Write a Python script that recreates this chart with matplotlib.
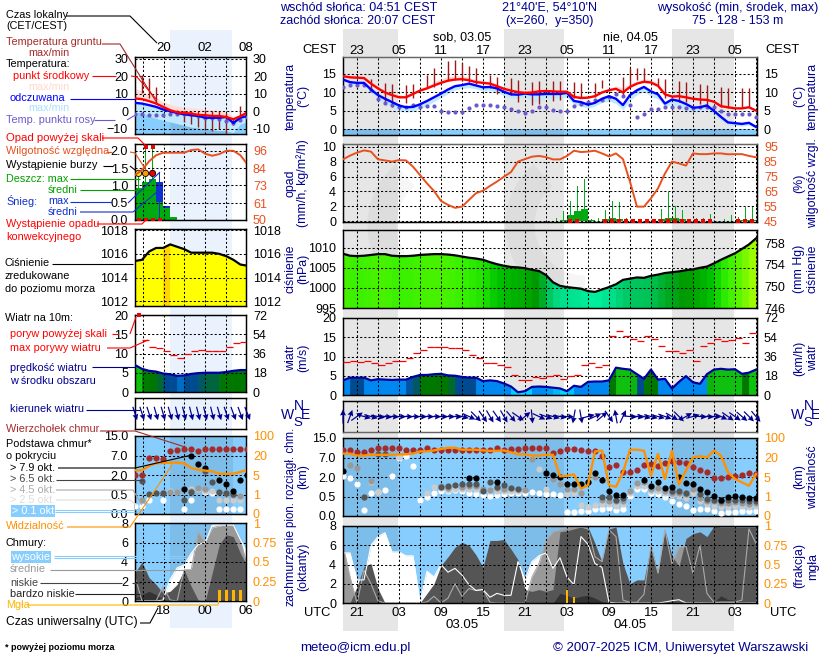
import numpy as np
import matplotlib
matplotlib.use("Agg")
import matplotlib.pyplot as plt
from matplotlib.colors import LinearSegmentedColormap
from matplotlib.patches import Arc

plt.rcParams['font.family'] = ['Liberation Sans', 'DejaVu Sans']
plt.rcParams['font.size'] = 9

n = np.nan
W, H = 820, 660

# ---- duzy meteogram, co godzine od 19 UTC
temp_mid = [14.3,14,13.9,13.8,12.3,11,9.9,9.2,8.6,8.6,9.5,10.4,11,11.8,12.5,13.1,13.4,13.5,13.2,12.7,12.5,12.3,11.6,10.9,10.4,10,9.8,9.9,10.2,10.3,
            10.2,10.1,10.1,8.7,8.4,8.5,8.9,9.9,10.5,10.9,9.9,11.4,12.3,12.8,12.6,11.7,9.4,8.8,8.9,8.6,8.2,8,7.9,7.4,6.2,5.9,5.6,5.6,5.9,5]
temp_hi = [14.6,14.4,14.3,14.2,12.9,11.5,10.4,9.8,9.2,9.2,10,11,11.8,12.8,13.6,14.2,14.4,14.4,14,13.4,13.1,12.9,12.2,11.4,10.9,10.6,10.7,11,11.2,11,
           11,10.8,10.6,9.3,9,9,9.3,10.3,11,11.7,11.2,12.3,13,13.6,13.4,12.4,9.8,9.2,9.3,9,8.6,8.4,8.2,7.7,6.5,6.1,5.9,5.9,6.2,5.2]
felt = [13.4,12.7,12.5,12.5,10.7,9.2,8.2,7.3,6.4,5.9,6,6.7,7.6,8.6,9.6,10.7,11.6,11.9,12.3,11.8,11.3,11.4,11,10.1,9.4,9.3,9.6,9.4,9.4,9.5,
        9.5,9.5,9.8,7.6,7.3,6.6,7.1,8.2,8.9,8.2,6.5,9.2,10.5,11.4,10.2,9.4,6.9,8,7.6,6.8,5.8,5.9,6.4,4.9,3.3,1.8,1.6,1.4,1.7,0.6]
felt_lo = [12.9,12.2,12,11.8,9.7,8.1,7,5.8,4.9,4.6,4.8,5.5,6.4,7.4,8.5,9.6,10.6,11,11.2,10.9,10.3,10.4,10,9,8.4,8.4,8.7,7.5,7.5,8.3,
           8.3,8.3,8.6,6.6,6.2,5.6,6.2,7.2,7.6,6.9,5.2,7.8,9.3,10.2,8.8,8.2,6,6.8,6,5.2,4.8,5,5.3,3.9,2.4,1,1,.8,1.1,0.2]
dew = [11.4,12,12,12,10.7,8.1,7.1,6.4,6,6,6.4,6.1,6.2,6.2,4.9,4.7,4.5,4.5,5.7,6.4,6.4,6.6,6.2,5.9,5.5,4.9,4.4,4.9,5.9,5.9,
       5.2,5,4.9,6.3,6.7,7.2,8,8,8.8,9.5,8.9,6.6,3.4,4,5.5,5.5,6,6,6,5.6,5.6,6,6,5.9,4.9,4.2,4.2,4.2,4.2,3.4]
ground_top = [n,n,n,n,13.5,n,12.6,12.3,n,12,12.3,n,14.7,16.4,n,18.4,18.6,18,17,16.4,n,14.6,14.1,n,13.7,13.2,n,12.8,13,n,
              13,13,n,12.8,12.6,n,12.6,13.2,n,n,14.1,16.4,16.4,16.4,n,13.9,13.5,n,13,12.8,n,12.3,12,n,11.4,11.2,n,11,11,n]
ground_bot = [n,n,n,n,10.3,n,6.7,6,n,7,8.3,n,11,11.4,n,13,13.2,13,12.8,12.3,n,11,9.6,n,9.2,7.4,n,6.5,6.7,n,
              7.6,7.9,n,8.3,8.3,n,8.7,11,n,n,9.2,11.9,13.2,12.8,n,11.9,8.3,n,7.4,7.4,n,6.9,6.5,n,6,5.8,n,5.6,6,n]

humid = [86.5,89,91,92.5,91.7,86.5,85.8,85,86,85.8,81.6,76,70.4,65.3,58.6,56,54,54.8,59.3,63.8,65.5,68.7,71.6,74.9,78,85,86.7,88.3,88.8,88,
         86.5,86.5,88.8,92.3,91.4,91.7,92.3,90.5,88.5,90.5,86.7,71.6,54.8,54.8,60.4,67,77,85,83.8,82.3,90.5,90,90,90.5,90.5,89.9,90,90,88.8,87.9]
rain_mean = [0,0,0,0,0,0,0,0,0,0,0,0,0,0,0,0,0,0,0,0,0,0,0,0,0,0,0,0,0,0,
             .05,.2,.85,1.4,1.65,.15,.05,.25,.5,.25,.05,0,0,0,0,.25,.5,.5,.35,.1,.05,.05,.1,0,.05,.1,.2,.2,.2,.2]
rain_max = [0,0,0,0,0,0,0,0,0,0,0,0,0,0,0,0,0,0,0,0,0,0,0,0,0,0,0,0,0,0,
            .4,1.4,2.7,4.7,5.7,.3,.4,1.5,2.7,2.6,.4,0,0,0,0,1.7,3.9,2,1.5,0,.5,.5,1,0,.3,.9,.6,1.9,1.9,.3]
conv_hours = [32,33,37,38,39,40,41,42,43,44,45,46,47,48,49,50,51,52,56,57,58]

press = [1008.5,1008,1007.9,1008,1008.2,1008.4,1008.4,1008,1007.9,1007.9,1008,1008.2,1008.3,1008.4,1008.4,1008.3,1008.1,1007.8,1007.5,1007.3,
         1007,1006.4,1005.9,1005.5,1005.2,1005.1,1004.9,1004.5,1004.2,1003.2,1001.4,1000.5,1000.2,1000,999.8,999.2,999,999.6,1000.2,1000.9,
         1002,1002.3,1002.6,1002.5,1003,1003.3,1003.7,1003.9,1004.1,1004.4,1004.6,1005,1005.3,1006.1,1007,1007.8,1008.6,1009.7,1010.8,1012.3]

wind = [3.8,4.5,4.5,4.5,3.8,4.1,4,3.9,4,4,4.7,5.2,5.2,5.4,5.5,5.1,5,4.7,4.5,4.5,3.6,3.8,3.6,3,2.2,.7,1,2.1,2.2,2.1,
        1.9,1.7,1,2.4,2.1,3.4,3.5,3.5,3.8,7.1,6.8,6.6,5.4,4.2,6.6,4,4.2,1.7,3.4,4.9,3.3,2.9,5.4,6.6,6.8,6.6,6.7,5.5,5.8,6.6]
gust = [8.5,8.9,8.5,8.8,8.4,7.9,8.2,8.8,8.8,9.7,10.8,11.6,12.5,12.5,12.5,12.3,12.3,11.6,10.3,9.5,8.3,8.4,7.9,7.2,5.3,3.8,3.8,4.7,4.3,5,
        5.1,4.1,5,5.3,7.9,8.4,7.4,7.7,15.4,16.7,15.2,14.6,14.1,15.4,14.6,12.6,11.5,11.3,11,11.8,8.9,12.8,13.4,14.6,13.9,14.4,14.8,13.5,16]
wind_dir = [90,70,35,-15,-15,-10,-8,-5,-3,-3,-3,-3,-3,-3,-3,-3,-5,-15,-25,-45,-55,-60,-55,-60,-50,-35,40,-85,-25,-20,
            -15,-10,-3,-100,-80,15,25,40,-55,100,65,-5,-8,-15,-15,-15,-20,-30,-45,30,15,-5,-5,-5,-25,-35,-35,-40,-45,-50]

cloud_top = [10.2,10.2,9.4,9.1,10.2,10.7,10.7,10.7,10.9,10.2,10.2,10.2,10.9,10.2,9.9,10.2,10.2,10.2,10.2,10.2,10.2,10.2,11,10.2,10.3,10.3,10.7,10.7,10.7,10.7,
             8.9,9.5,10.3,10.3,10.2,9.8,9.5,7.5,4.5,5.1,3.2,3.4,3.9,5.1,5.4,4.8,5.6,6,5.8,5.6,4.5,3.7,3.3,1.9,1.9,2.1,2.3,2.5,2.9,2.7]
base_79 = [3.5,n,n,n,n,n,n,n,n,n,n,n,n,n,n,n,n,n,1.95,1.95,n,n,1.63,n,n,n,n,n,n,2.9,
           2.5,2,1.45,1.45,1.45,1.63,2.9,1.75,.92,.58,.58,n,n,1.8,1.32,1.63,1.13,1.26,2,1.53,1.45,1.05,.85,.53,.42,.49,.53,.49,.47,.47]
base_65 = [n,n,n,.48,n,8.6,8.5,n,n,n,n,n,n,n,1.2,1.3,1.4,1.5,1.5,1.5,.95,1.63,1.2,1.37,1.18,1.1,n,n,n,n,
           n,n,n,n,n,n,n,.49,.49,.42,.46,n,n,n,n,n,n,.92,.92,.74,n,.66,.44,.42,.38,.42,.42,.41,.38,.38]
base_45 = [n,5,4.3,.5,1.7,n,n,n,n,n,n,n,n,n,1.3,1.15,n,1.25,1.3,1.3,1.1,1,1.18,1.05,n,n,1,6.5,n,n,
           1.85,1.45,1.05,1.1,.74,1.63,2.1,.42,.38,.38,.38,.92,1.53,1.58,1.1,1.18,.92,.79,.79,.66,1.05,.46,.38,.38,.34,.34,.36,.34,.32,.34]
base_25 = [n,n,n,n,1.6,.85,n,n,7.3,n,n,n,.75,1.25,1.15,1,1.1,1.1,1.1,1.1,1,.92,.92,.92,.92,.92,n,6.8,4.1,1.05,
           n,n,.66,.74,.27,.24,.27,.3,.3,.25,.3,.79,1.32,1.32,.92,.92,.74,.58,.53,.46,.79,.38,.3,.25,.24,.24,.25,.25,.24,.25]
base_01 = [2.2,1.9,1.5,.15,.75,.85,1,2.3,7,7.5,4.8,.42,.5,.75,.9,.95,1,.9,.8,.7,.65,.55,.63,.66,.74,.74,.79,.85,.74,.66,
           .66,.58,.1,.1,.13,.13,.17,.19,.21,.15,.19,.53,1.1,1.1,.74,.66,.49,.38,.32,.25,.15,.17,.19,.13,.08,.1,.1,.12,.12,.13]
visib = [36,36,28,28,31,31,31,31,33,33,36,45,45,49,55,60,60,52,52,52,49,47,47,49,41,33,33,28,28,31,
         31,5.5,6,7,2.6,3.3,45,48,3.3,3,8.6,52,52,48,6,35,4.6,48,3.5,10,21,25,20,48,28,8.6,4.6,3.9,3.2,7.3]

cl_high = [5.2,5.2,2.4,2.4,6,6.9,7.3,5.3,5.3,4.9,4.9,.07,3.3,2.7,4,3.2,3.6,2.9,1.9,1.3,1.4,.6,1,.8,.8,4.3,2.4,4.3,4.9,5.2,
           3.6,4.7,2.7,1.9,6.9,6.1,4.1,3.7,.07,0,0,0,0,0,0,0,.1,.24,.34,0,0,0,0,0,0,0,0,0,0,0]
cl_mid = [6,2.7,0,3.4,2,.2,0,0,0,0,0,0,.1,.7,0,.5,2,.7,1.5,1.3,1.4,.07,0,0,0,0,0,2.7,4.1,6.5,
          7.4,7.6,7.8,7.9,7.9,7.7,4.8,4.3,7.6,6.9,.3,.07,.07,.9,6,3.1,7.6,4.1,5.8,5.9,3.1,6,1,.07,.1,.1,.1,.3,7.7,6.2]
cl_low = [0,0,1.7,3.8,4.1,1.5,0,0,0,0,0,0,1,2,3.9,4.8,5.8,6.3,6,5,3.7,6.5,6.5,6.6,5.6,4.5,1.4,1.2,1.4,1.2,
          1.4,7.4,7.5,7.7,7.9,7.9,6.2,4.3,7.7,7.9,4.1,2,2.4,2.4,6,3.1,7.6,4.9,3.8,6.7,7.2,7.4,6.9,8,7.9,7.9,7.9,7.9,7.9,7.9]
cl_vlow = [0,0,0,0,0,0,0,0,0,0,0,0,0,0,0,0,0,0,0,0,0,0,0,0,0,0,0,0,0,0,
           0,1,.8,.5,.7,.8,.5,.15,0,0,0,0,0,0,0,0,0,0,0,0,0,0,.15,.1,.75,.35,.3,.15,.1,0]
fog_hours = [32,33]
fog_frac = [.17,.08]

# ---- maly meteogram, od 14 UTC
s_temp = [7.3,6.9,5.8,4.4,2.5,.6,-.6,-1,-1.3,-2.1,-2.3,-2.7,-2.7,-3.3,-4.6,-2.9,-.6]
s_temp_hi = [13,11.5,9.6,7.7,5.5,4,3,2.3,2,1.5,1,.8,.5,-.5,-3,-1.5,0]
s_felt = [4.8,4.4,3.5,2.5,1,0,-1,-1.7,-2.3,-2.7,-3.7,-3.7,-3.7,-3.3,-6.7,-3.7,-2.7]
s_felt_lo = [-.4,-1,-2.5,-4,-5,-6,-7,-8,-9,-9.5,-10,-10.5,-11,-11,-12,-7,-6]
s_dew = [-1.3,-1.3,-1.9,-2.3,-2.3,-1.7,-1.3,-1.7,-1.7,-2.9,-3.7,-4.1,-4.4,-5.6,-6.7,-5.2,-3.5]
s_ground_top = [n,20.8,19.2,14,n,1,1,0,0,0,1,0,0,-1,-4,3,n]
s_ground_bot = [n,10.2,7.3,4.4,n,-2,-2,-6,-7,-9,-10,-11,-10,-13,-8,-3,n]
s_humid = [79.9,83.2,89,93,94.7,94.7,94.7,94.7,96.5,96.9,94,92.7,93.8,96,96,93,87]
s_rain_mean = [.94,1.1,1.18,.53,.34,.08]
s_snow_mean = [0,0,0,1.09,.41,0]
s_rain_max = [1.35,2.1,2.1,0,0,0]
s_snow_max = [0,0,0,1.35,0,0]
s_storm_hours = [.5,1.5,2.5]
s_storm_colors = ['#ffe000', '#ff9900', '#ee0000']
s_press = [1015.4,1015.5,1016.2,1016.5,1016.5,1016.8,1016.6,1016.4,1016.1,1016.1,1016.1,1016.1,1016,1015.8,1015.5,1015.1,1015]
s_wind = [7,6,5.5,5.3,4.8,4.6,4.2,4.3,4.7,4.9,5,5,5,5.2,5.5,5.7,5.7]
s_gust = [n,13.5,11.7,11.4,10.6,9.6,8.8,9.8,10.7,10.9,10.6,10.6,10.6,11.7,12.7,13]
s_dir = [-72,-72,-72,-74,-74,-74,-76,-76,-76,-76,-76,-76,-74,-72,-70,-70,-68]
s_cloud_top = [2.05,2.05,6.4,6.4,6,8.7,9.4,9.7,9.7,8.7,9.7,9.7,9.7,9.7,9.7,9.7,9.7]
s_base_79 = [n,n,n,n,n,n,n,.95,7,4.9,3.8,n,1.6,1.3,.8,1.6,2]
s_base_65 = [n,1.55,.55,.6,.62,n,n,.35,.7,n,3,1.5,.7,.6,.55,n,n]
s_base_45 = [n,.36,n,n,.65,.7,.7,n,.75,1,.9,n,n,.6,.5,.45,n]
s_base_25 = [n,n,n,n,n,.75,.72,n,.9,.95,.8,.75,.35,.35,.35,.35,n]
s_base_01 = [.2,.2,.35,n,.37,n,n,.12,.35,n,.7,.65,.12,.12,.12,.12,n]
s_visib = [8.6,8.6,12,14,14.3,14.5,14.5,14,10.4,9,8.4,7.8,6,5.8,6,7.3,9.1]
s_high = [0,0,0,0,.1,2.2,3.4,3.7,4.9,5.8,6,7.8,7.8,7.8,7.8,6.3,4.9]
s_mid = [2.5,0,0,0,1.5,.1,0,3.2,3.2,7.1,6,7.5,7.7,7.8,7.8,6.3,3.5]
s_low = [2.9,4,2.4,1.7,.8,1,1.7,3.2,1.5,.1,0,2.9,5.8,6.8,6.6,4.9,3.5]
s_vlow = [.3,.65,1,.65,.15,0,0,0,0,0,0,0,0,0,0,0,0]
s_fog_hours = [12,13,14,15]
s_fog_frac = [.14,.14,.14,.14]

NAVY = '#000090'
SKY = '#87CEFF'
SKY_DARK = '#7dbdea'
NIGHT = '#e6e6e6'
PALE = '#eaf2fe'
RH_COL = '#e8501e'
VIS_COL = '#ff9000'
TOP_COL = '#a52a2a'

wind_cmap = LinearSegmentedColormap.from_list('w', [
    (0, '#00e8ff'), (.2, '#00d0ff'), (.27, '#0088f0'), (.52, '#0088f0'), (.55, '#004a90'),
    (.61, '#004a90'), (.64, '#007800'), (.72, '#007800'), (.76, '#10c010'), (.88, '#10c010'), (1, '#40ff20')])
press_cmap = LinearSegmentedColormap.from_list('p', [
    (0, '#00f0a0'), (.15, '#00d880'), (.3, '#00c050'), (.4, '#009a00'), (.52, '#00c800'),
    (.65, '#33f000'), (1, '#b0ff00')])

main_h = np.arange(60)
small_h = np.arange(17)
main_xlim = (0, 59.15)
small_xlim = (0, 15.8)
main_grid = np.arange(2, 60, 3)
small_grid = [1.1, 4.1, 7, 10, 13]
main_night = [(0, 7.8), (23, 31.6), (47, 55.8)]
small_night = [(5, 13.9)]

fig = plt.figure(figsize=(W / 100, H / 100), dpi=100)

# tlo: pasy nocy i slaby znak wodny
bg = fig.add_axes([0, 0, 1, 1], zorder=-5)
bg.set_xlim(0, W)
bg.set_ylim(H, 0)
bg.axis('off')
for a, b in main_night:
    bg.axvspan(343 + 7 * a, 343 + 7 * b, ymin=1 - 631 / H, ymax=1 - 29 / H, color=NIGHT, lw=0)
bg.axvspan(170, 232, ymin=1 - 628 / H, ymax=1 - 30 / H, color=PALE, lw=0)
for cx in (447, 585):
    bg.add_patch(Arc((cx, 225), 130, 130, theta1=90, theta2=230, color='k', alpha=.035, lw=21))


def panel(box, xlim, ylim, grid_x, yticks=(), ylabels=None):
    l, t, r, b = box
    ax = fig.add_axes([l / W, 1 - b / H, (r - l) / W, (b - t) / H])
    ax.patch.set_alpha(0)
    ax.set_xlim(xlim)
    ax.set_ylim(ylim)
    ax.set_xticks(grid_x)
    ax.set_xticklabels([])
    ax.set_yticks(yticks)
    if ylabels is not None:
        ax.set_yticklabels(ylabels)
    ax.tick_params(length=0, labelsize=9, pad=5)
    ax.grid(True, color='k', ls=(0, (2, 2)), lw=.75)
    ax.set_axisbelow(False)
    for s in ax.spines.values():
        s.set_linewidth(1.05)
    return ax


def right_labels(ax, ticks, labels, color='k', ylim=None):
    tw = ax.twinx()
    tw.set_ylim(ax.get_ylim() if ylim is None else ylim)
    tw.set_yticks(ticks)
    tw.set_yticklabels(labels, color=color)
    tw.tick_params(length=0, labelsize=9, pad=5)
    tw.patch.set_alpha(0)
    for s in tw.spines.values():
        s.set_visible(False)
    return tw


def time_labels(ax, step_labels, top=False, pad=3):
    if top:
        ax.tick_params(axis='x', top=True, bottom=False, labeltop=True, labelbottom=False, pad=pad)
    else:
        ax.tick_params(axis='x', pad=pad)
    ax.set_xticklabels(step_labels)


def draw_temp(ax, h, mid, hi, fl, lo, dw, gtop, gbot):
    ax.fill_between(h, mid, hi, color='#ffdcd8', lw=0, zorder=1)
    ax.fill_between(h, lo, fl, color='#bfe9ff', lw=0, zorder=1)
    ax.vlines(h, gbot, gtop, color='#a01818', lw=1, zorder=3)
    ax.scatter(h, dw, s=9, color='#6a5acd', lw=0, zorder=3)
    ax.plot(h, fl, color='#0000ff', lw=1.7, zorder=4)
    ax.plot(h, mid, color='#ff0000', lw=1.7, zorder=4)


def draw_filled(ax, h, vals, cmap, vmin, vmax, bottom):
    for i in range(len(h) - 1):
        c = cmap((0.5 * (vals[i] + vals[i + 1]) - vmin) / (vmax - vmin))
        ax.fill_between(h[i:i + 2], bottom, vals[i:i + 2], color=c, lw=.6, zorder=1)


def draw_dir(ax, h, angles):
    rad = np.radians(angles)
    ax.quiver(h, np.zeros(len(h)), np.cos(rad), np.sin(rad), color=NAVY, angles='uv', pivot='mid',
              units='inches', scale_units='inches', scale=1 / 0.14, width=0.012,
              headwidth=5, headlength=5, headaxislength=4.5, zorder=3, clip_on=False)


base_pos = [0, .25, .5, .75, 1]
base_km = [0, .5, 2, 7, 15]
vis_km = [0, 1, 5, 20, 100]


def draw_base(ax, h, night, top, layers, vis, size=20):
    ax.set_facecolor(SKY)
    ax.patch.set_alpha(1)
    for a, b in night:
        ax.axvspan(a, b, color=SKY_DARK, lw=0, zorder=0)
    for vals, c in layers:
        ax.scatter(h, np.interp(vals, base_km, base_pos), s=size, color=c, lw=0, zorder=3)
    ax.scatter(h, np.interp(top, base_km, base_pos), s=size, color=TOP_COL, lw=0, zorder=3)
    ax.plot(h, np.interp(vis, vis_km, base_pos), color=VIS_COL, lw=1.7, zorder=4)


def draw_clouds(ax, h, night, high, mid, low, vlow, fog_h, fog_f):
    ax.set_facecolor(SKY)
    ax.patch.set_alpha(1)
    for a, b in night:
        ax.axvspan(a, b, color=SKY_DARK, lw=0, zorder=0)
    ax.fill_between(h, 0, high, color='#ffffff', lw=0, zorder=1)
    ax.fill_between(h, 0, mid, color='#999999', lw=0, zorder=1)
    ax.fill_between(h, 0, low, color='#555555', lw=0, zorder=1)
    ax.fill_between(h, 0, vlow, color='#333333', lw=0, zorder=1)
    ax.plot(h, mid, color='#aaaaaa', lw=.8, zorder=2)
    ax.plot(h, high, color='#ffffff', lw=.8, zorder=2)
    ax.bar(fog_h, np.array(fog_f) * 8, width=.4, color='#ffb400', lw=0, zorder=3)


LAB_M = ['23', '', '05', '', '11', '', '17', '', '23', '', '05', '', '11', '', '17', '', '23', '', '05', '']
UTC_M = ['21', '', '03', '', '09', '', '15', '', '21', '', '03', '', '09', '', '15', '', '21', '', '03', '']

# ---- duze panele
ax = panel((343, 57, 757, 135), main_xlim, (-1.6, 19.5), main_grid, [0, 5, 10, 15])
ax.axhspan(-1.6, 0, color=SKY, lw=0, zorder=0.5)
for a, b in main_night:
    ax.fill_between([a, b], -1.6, 0, color=SKY_DARK, lw=0, zorder=0.6)
draw_temp(ax, main_h, temp_mid, temp_hi, felt, felt_lo, dew, ground_top, ground_bot)
ax.spines['top'].set_color('#666666')
ax.tick_params(axis='x', labelsize=9.5)
time_labels(ax, LAB_M, top=True, pad=0)
right_labels(ax, [0, 5, 10, 15], ['0', '5', '10', '15'])

ax = panel((343, 144, 757, 222), main_xlim, (-.1, 10.36), main_grid, [0, 2, 4, 6, 8, 10])
ax.bar(main_h + .5, rain_max, width=.22, color='#00b020', lw=0, zorder=2)
ax.bar(main_h + .5, rain_mean, width=1, color='#00aa10', lw=0, zorder=2)
ax.scatter(np.array(conv_hours) + .5, np.zeros(len(conv_hours)), s=7, marker='s', color='#ee0000', lw=0, zorder=4)
ax.spines['top'].set_color('#666666')
tw = right_labels(ax, [45, 55, 65, 75, 85, 95], ['45', '55', '65', '75', '85', '95'], RH_COL, (44.5, 96.8))
tw.plot(main_h, humid, color=RH_COL, lw=1.4, zorder=4)

ax = panel((343, 230, 757, 308), main_xlim, (995, 1014.4), main_grid, [995, 1000, 1005, 1010])
draw_filled(ax, main_h, press, press_cmap, 999, 1012.3, 995)
ax.plot(main_h, press, color='k', lw=1.6, zorder=4)
right_labels(ax, [995, 1000.3, 1005.7, 1011], ['746', '750', '754', '758'])

ax = panel((343, 318, 757, 395), main_xlim, (0, 20), main_grid, [0, 5, 10, 15, 20])
draw_filled(ax, main_h, wind, wind_cmap, 0, 8, 0)
ax.plot(main_h, wind, color='#0000a0', lw=1.6, zorder=4)
ax.hlines(gust, main_h[:len(gust)], main_h[:len(gust)] + 1, color='#ff0000', lw=.9, zorder=4)
right_labels(ax, [0, 5, 10, 15, 20], ['0', '18', '36', '54', '72'])

ax = panel((343, 401, 757, 432), main_xlim, (-1, 1), main_grid)
ax.spines['bottom'].set_color('#666666')
draw_dir(ax, main_h, wind_dir)

ax = panel((343, 438, 757, 516), main_xlim, (0, 1), main_grid, base_pos, ['0.0', '0.5', '2.0', '7.0', '15.0'])
draw_base(ax, main_h, main_night, cloud_top,
          [(base_01, '#ffffff'), (base_25, '#cccccc'), (base_45, '#999999'), (base_65, '#555555'), (base_79, '#000000')], visib)
right_labels(ax, base_pos, ['0', '1', '5', '20', '100'], VIS_COL)

ax = panel((343, 526, 757, 603), main_xlim, (0, 8), main_grid, [0, 2, 4, 6, 8])
draw_clouds(ax, main_h, main_night, cl_high, cl_mid, cl_low, cl_vlow, fog_hours, fog_frac)
ax.tick_params(axis='x', labelsize=9.5)
time_labels(ax, UTC_M)
right_labels(ax, [0, 2, 4, 6, 8], ['0', '0.25', '0.5', '0.75', '1'], VIS_COL)

# ---- male panele
ax = panel((135, 57, 246, 134), small_xlim, (-13, 31), small_grid, [-10, 0, 10, 20, 30])
ax.fill_between(small_h, -13, s_felt_lo, color=SKY, lw=0, zorder=0.5)
ax.fill_between(small_h, s_felt_lo, s_felt, color='#c4ecff', lw=0, zorder=0.4)
for a, b in small_night:
    ax.fill_between(small_h, -13, s_felt_lo, where=(small_h >= a) & (small_h <= b), color=SKY_DARK, lw=0, zorder=0.6)
draw_temp(ax, small_h, s_temp, s_temp_hi, s_felt, s_felt_lo, s_dew, s_ground_top, s_ground_bot)
ax.set_xticks([1.1, 4.1, 7, 10, 13, 15.8])
ax.tick_params(axis='x', labelsize=9.5)
time_labels(ax, ['', '20', '', '02', '', '08'], top=True, pad=2)
ax.grid(False, axis='x')
for g in small_grid:
    ax.axvline(g, color='k', ls=(0, (2, 2)), lw=.75, zorder=2.5)
right_labels(ax, [-10, 0, 10, 20, 30], ['-10', '0', '10', '20', '30'])

ax = panel((135, 144, 246, 220), small_xlim, (0, 2.2), small_grid, [0, .5, 1, 1.5, 2], ['0.0', '0.5', '1.0', '1.5', '2.0'])
bars = np.arange(len(s_rain_mean)) + .5
ax.bar(bars, s_snow_mean, width=1, color='#1030d0', lw=0, zorder=2)
ax.bar(bars, s_rain_mean, width=1, color='#00aa10', lw=0, zorder=2)
ax.bar(bars, s_rain_max, width=.2, color='#00aa10', lw=0, zorder=2)
ax.bar(bars, s_snow_max, width=.15, color='#1030d0', lw=0, zorder=2)
ax.scatter(bars[1:3], [2.1, 2.1], s=9, marker='s', color='#ee0000', lw=0, zorder=4)
ax.scatter(bars[:4], [0, 0, 0, 0], s=7, marker='s', color='#ee0000', lw=0, zorder=4)
ax.scatter(s_storm_hours, [1.35, 1.35, 1.35], s=20, c=s_storm_colors, edgecolors='k', lw=.6, zorder=5)
tw = right_labels(ax, [50, 61, 73, 84, 96], ['50', '61', '73', '84', '96'], RH_COL, (50, 96 + 4.5))
tw.plot(small_h, s_humid, color=RH_COL, lw=1.4, zorder=4)

ax = panel((135, 229, 246, 306), small_xlim, (1011.6, 1018.1), small_grid, [1012, 1014, 1016, 1018])
for i in range(len(s_press) - 1):
    c = '#ffd400' if i == 4 else '#ffff00'
    ax.fill_between(small_h[i:i + 2], 1011.6, s_press[i:i + 2], color=c, lw=.6, zorder=1)
ax.plot(small_h, s_press, color='k', lw=1.6, zorder=4)
right_labels(ax, [1012, 1014, 1016, 1018], ['1012', '1014', '1016', '1018'])

ax = panel((135, 315, 246, 392), small_xlim, (0, 20), small_grid, [0, 5, 10, 15, 20])
draw_filled(ax, small_h, s_wind, wind_cmap, 0, 8, 0)
ax.plot(small_h, s_wind, color='#0000a0', lw=1.6, zorder=4)
ax.hlines(s_gust, small_h[:len(s_gust)], small_h[:len(s_gust)] + 1, color='#ff0000', lw=.9, zorder=4)
ax.scatter([.5], [20], s=9, marker='s', color='#ee0000', lw=0, zorder=4, clip_on=False)
right_labels(ax, [0, 5, 10, 15, 20], ['0', '18', '36', '54', '72'])

ax = panel((135, 398, 246, 429), small_xlim, (-1, 1), small_grid)
draw_dir(ax, small_h, s_dir)

ax = panel((135, 436, 246, 514), small_xlim, (0, 1), small_grid, base_pos, ['0.0', '0.5', '2.0', '7.0', '15.0'])
draw_base(ax, small_h, small_night, s_cloud_top,
          [(s_base_01, '#ffffff'), (s_base_25, '#cccccc'), (s_base_45, '#999999'), (s_base_65, '#555555'), (s_base_79, '#000000')], s_visib)
right_labels(ax, base_pos, ['0', '1', '5', '20', '100'], VIS_COL)

ax = panel((135, 523, 246, 601), small_xlim, (0, 8), small_grid, [0, 2, 4, 6, 8])
draw_clouds(ax, small_h, [], s_high, s_mid, s_low, s_vlow, s_fog_hours, s_fog_frac)
ax.axvspan(5, 13.9, color=SKY_DARK, lw=0, zorder=0)
ax.set_xticks([1.1, 4.1, 7, 10, 13, 15.8])
ax.tick_params(axis='x', labelsize=9.5)
time_labels(ax, ['', '18', '', '00', '', '06'])
ax.grid(False, axis='x')
for g in small_grid:
    ax.axvline(g, color='k', ls=(0, (2, 2)), lw=.75, zorder=2.5)
right_labels(ax, [0, 2, 4, 6, 8], ['0', '0.25', '0.5', '0.75', '1'], VIS_COL)

# ---- napisy i linie opisu
ov = fig.add_axes([0, 0, 1, 1], zorder=20)
ov.set_xlim(0, W)
ov.set_ylim(H, 0)
ov.axis('off')


def tx(x, y, s, color='k', ha='left', rot=0, size=7.8, **kw):
    ov.text(x, y, s, color=color, ha=ha, va='center', rotation=rot, fontsize=size, **kw)


def lead(color, *pts):
    xs, ys = zip(*pts)
    ov.plot(xs, ys, color=color, lw=.8, solid_capstyle='butt')


tx(6, 15, 'Czas lokalny')
tx(6, 26, '(CET/CEST)')
lead('k', (66, 16), (130, 16), (157, 43))
tx(6, 42, 'Temperatura gruntu', TOP_COL)
tx(28, 53, 'max/min', TOP_COL)
lead(TOP_COL, (102, 44), (120, 44), (157, 103))
tx(6, 64, 'Temperatura:')
tx(13, 76, 'punkt środkowy', '#ff0000')
lead('#ff0000', (92, 76), (116, 76))
lead('#ff0000', (131, 76), (137, 77), (157, 100))
tx(28, 87, 'max/min', '#ffd8c8')
tx(10, 98, 'odczuwana', '#0000ff')
lead('#0000ff', (70, 99), (135, 99))
tx(28, 108, 'max/min', '#a8e0ff')
tx(6, 120, 'Temp. punktu rosy', '#6a5acd')
lead('#6a5acd', (94, 120), (115, 120))
lead('#6a5acd', (127, 120), (137, 114))
tx(6, 138, 'Opad powyżej skali', '#ff0000', size=8.2)
lead('#ff0000', (102, 138), (138, 138), (146, 146))
tx(6, 151, 'Wilgotność względna', RH_COL)
lead(RH_COL, (106, 152), (112, 152))
lead(RH_COL, (130, 152), (135, 153), (146, 170))
tx(6, 165, 'Wystąpienie burzy', size=8)
lead('k', (103, 166), (113, 166))
lead('k', (130, 166), (135, 170))
tx(6, 179, 'Deszcz: max', '#00a000')
lead('#00a000', (70, 179), (140, 179))
tx(48, 190, 'średni', '#00a000')
lead('#00a000', (80, 190), (152, 190))
tx(6, 201, 'Śnieg:', '#1030d0')
tx(48, 201, 'max', '#1030d0')
lead('#1030d0', (70, 202), (112, 202))
lead('#1030d0', (128, 203), (160, 172))
tx(48, 212, 'średni', '#1030d0')
lead('#1030d0', (80, 212), (133, 212), (163, 187))
tx(6, 224, 'Wystąpienie opadu', '#ff0000')
lead('#ff0000', (97, 224), (142, 224), (148, 218))
tx(6, 237, 'konwekcyjnego', '#ff0000')
tx(5, 263, 'Ciśnienie')
lead('k', (52, 264), (133, 264))
tx(5, 276, 'zredukowane')
tx(5, 289, 'do poziomu morza')
tx(5, 318, 'Wiatr na 10m:')
tx(10, 334, 'poryw powyżej skali', '#ff0000')
lead('#ff0000', (112, 334), (118, 334))
lead('#ff0000', (130, 334), (136, 317))
tx(10, 348, 'max porywy wiatru', '#ff0000')
lead('#ff0000', (107, 348), (130, 348), (148, 340))
tx(10, 368, 'prędkość wiatru', NAVY)
lead(NAVY, (92, 367), (135, 367))
tx(10, 381, 'w środku obszaru', NAVY)
tx(10, 409, 'kierunek wiatru', NAVY)
lead(NAVY, (86, 410), (140, 410))
tx(6, 429, 'Wierzchołek chmur', TOP_COL)
lead(TOP_COL, (100, 431), (135, 431), (185, 447))
tx(6, 444, 'Podstawa chmur*')
tx(6, 456, 'o pokryciu')
tx(10, 468, '> 7.9 okt.')
lead('k', (58, 468), (135, 468), (192, 455))
tx(10, 479, '> 6.5 okt.', '#444444')
lead('#444444', (56, 480), (143, 480))
tx(10, 490, '> 4.5 okt.', '#aaaaaa')
lead('#aaaaaa', (56, 490), (133, 490), (142, 505))
tx(10, 500, '> 2.5 okt.', '#dddddd')
lead('#dddddd', (56, 500), (130, 500), (137, 505))
ov.fill_between([11, 55], 505, 517, color=SKY, lw=0)
tx(12, 511, '> 0.1 okt.', 'w')
lead(SKY, (55, 510), (135, 510))
lead(SKY, (55, 512), (135, 512))
tx(6, 526, 'Widzialność', VIS_COL)
lead(VIS_COL, (67, 527), (130, 527), (172, 465))
tx(6, 543, 'Chmury:')
ov.fill_between([11, 51], 551, 563, color=SKY, lw=0)
tx(11, 557, 'wysokie', 'w')
lead(SKY, (54, 556), (185, 556))
lead(SKY, (54, 558), (185, 558))
tx(10, 569, 'średnie', '#999999')
lead('#999999', (50, 570), (193, 570))
tx(10, 583, 'niskie', '#444444')
lead('#444444', (40, 583), (122, 583))
lead('#444444', (132, 583), (140, 583))
tx(10, 594, 'bardzo niskie', '#222222')
lead('#222222', (75, 594), (140, 594))
tx(6, 605, 'Mgła', '#ffb400')
lead('#ffb400', (27, 605), (218, 605), (220, 590))
tx(6, 622, 'Czas uniwersalny (UTC)', size=8.7)
lead('k', (140, 623), (150, 623), (158, 608))
tx(5, 648, '* powyżej poziomu morza', size=6.5, fontweight='bold')

tx(280, 8, 'wschód słońca: 04:51 CEST', NAVY, size=9)
tx(280, 21, 'zachód słońca: 20:07 CEST', NAVY, size=9)
tx(550, 8, "21°40'E, 54°10'N", NAVY, ha='center', size=9)
tx(550, 21, '(x=260,  y=350)', NAVY, ha='center', size=9)
tx(818, 8, 'wysokość (min, środek, max)', NAVY, ha='right', size=9)
tx(738, 21, '75 - 128 - 153 m', NAVY, ha='center', size=9)
tx(462, 37, 'sob, 03.05', ha='center', size=9)
tx(630, 37, 'nie, 04.05', ha='center', size=9)
tx(337, 50, 'CEST', ha='right', size=9.3)
tx(765, 50, 'CEST', size=9.3)
tx(330, 613, 'UTC', ha='right', size=9.3)
tx(770, 613, 'UTC', size=9.3)
tx(462, 625, '03.05', ha='center', size=9.5)
tx(630, 625, '04.05', ha='center', size=9.5)
tx(300, 648, 'meteo@icm.edu.pl', NAVY, size=9.5)
tx(553, 648, '© 2007-2025 ICM, Uniwersytet Warszawski', NAVY, size=9.5)

left_labels = [('temperatura', '(°C)', 96, 8.9), ('opad', '(mm/h, kg/m²/h)', 183, 8.9), ('ciśnienie', '(hPa)', 269, 8.9),
               ('wiatr', '(m/s)', 358, 8.9), ('pion. rozciągł. chm.', '(km)', 477, 8.3), ('zachmurzenie', '(oktanty)', 567, 8.9)]
right_side = [('temperatura', '(°C)', 96), ('wilgotność wzgl.', '(%)', 183), ('ciśnienie', '(mm Hg)', 269),
              ('wiatr', '(km/h)', 358), ('widzialność', '(km)', 477), ('mgła', '(frakcja)', 566)]
for a, b, y, size in left_labels:
    tx(291, y, a, NAVY, ha='center', rot=90, size=size)
    tx(303, y, b, NAVY, ha='center', rot=90, size=8.9)
for a, b, y in right_side:
    tx(813, y, a, NAVY, ha='center', rot=90, size=8.9)
    tx(799, y, b, NAVY, ha='center', rot=90, size=8.9)
for dx in (0, 510):
    tx(288 + dx, 415, 'W', NAVY, ha='center', size=10)
    tx(299 + dx, 406, 'N', NAVY, ha='center', size=10)
    tx(306 + dx, 415, 'E', NAVY, ha='center', size=10)
    tx(298 + dx, 423, 'S', NAVY, ha='center', size=9.5)

fig.savefig('out.png', dpi=100)
